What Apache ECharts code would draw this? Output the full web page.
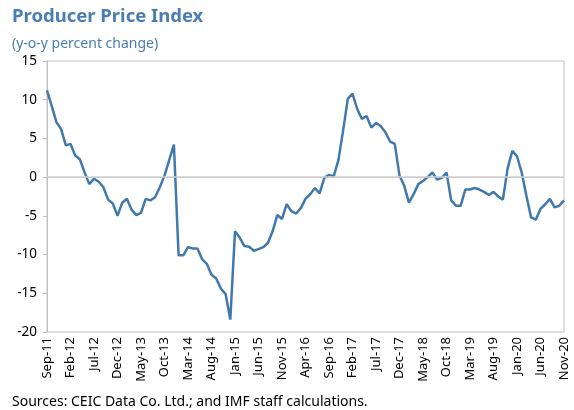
<!DOCTYPE html>
<html>
<head>
<meta charset="utf-8">
<script src="https://cdn.jsdelivr.net/npm/echarts@6/dist/echarts.min.js"></script>
<style>
html,body{margin:0;padding:0;background:#fff;}
#c{width:574px;height:410px;}
</style>
</head>
<body>
<div id="c"></div>
<script>
// Monthly categories Sep-11 .. Nov-20
const monthNames = ['Jan','Feb','Mar','Apr','May','Jun','Jul','Aug','Sep','Oct','Nov','Dec'];
const categories = [];
for (let y = 2011, m = 8; y < 2020 || (y === 2020 && m <= 10); ) {
  categories.push(monthNames[m] + '-' + String(y).slice(2));
  m++; if (m === 12) { m = 0; y++; }
}
const ppiValues = [
  11.2, 9.2, 7.1, 6.2, 4.1, 4.3, 2.8, 2.3, 0.6, -0.9,
  -0.2, -0.6, -1.3, -2.9, -3.4, -5.0, -3.3, -2.8, -4.2, -4.9,
  -4.6, -2.8, -3.0, -2.6, -1.3, 0.2, 2.2, 4.2, -10.1, -10.1,
  -9.05, -9.2, -9.2, -10.6, -11.2, -12.6, -13.1, -14.4, -15.1, -18.4,
  -7.0, -7.8, -8.9, -9.0, -9.5, -9.3, -9.05, -8.5, -7.0, -4.9,
  -5.4, -3.5, -4.4, -4.7, -4.0, -2.8, -2.2, -1.4, -2.1, -0.1,
  0.3, 0.1, 2.2, 6.0, 10.1, 10.8, 8.8, 7.5, 7.9, 6.4,
  7.0, 6.6, 5.8, 4.6, 4.3, 0.2, -1.1, -3.3, -2.2, -0.9,
  -0.5, 0.0, 0.6, -0.3, -0.1, 0.6, -3.0, -3.7, -3.7, -1.6,
  -1.6, -1.4, -1.6, -1.9, -2.3, -1.9, -2.5, -2.9, 1.1, 3.4,
  2.7, 0.6, -2.4, -5.2, -5.5, -4.1, -3.5, -2.8, -3.9, -3.7,
  -3.0
];
const yTicks = [-20, -15, -10, -5, 0, 5, 10, 15];

const titleText = 'Producer Price Index';
const subtitleText = '(y-o-y percent change)';
const sourceText = 'Sources: CEIC Data Co. Ltd.; and IMF staff calculations.';

const FONT = '"Noto Sans", "Open Sans", sans-serif';
const BLUE = '#4a7db3';

const chart = echarts.init(document.getElementById('c'), null, {renderer: 'canvas'});
chart.setOption({
  animation: false,
  backgroundColor: '#fff',
  title: [
    {text: titleText, left: 7, top: 2, textStyle: {fontFamily: FONT, fontSize: 18.5, fontWeight: 'bold', color: BLUE}},
    {text: subtitleText, left: 7, top: 32, textStyle: {fontFamily: FONT, fontSize: 14, fontWeight: 'normal', color: BLUE}},
    {text: sourceText, left: 7, top: 390, textStyle: {fontFamily: FONT, fontSize: 14, fontWeight: 'normal', color: '#000'}}
  ],
  grid: {left: 47, right: 10, top: 61, bottom: 78, show: true, borderColor: '#c0c0c0', borderWidth: 1, backgroundColor: 'transparent'},
  xAxis: {
    type: 'category',
    data: categories,
    boundaryGap: false,
    axisLine: {lineStyle: {color: '#c0c0c0'}},
    axisTick: {show: false},
    axisLabel: {interval: 4, rotate: 90, fontFamily: FONT, fontSize: 13, color: '#000', margin: 5},
    splitLine: {show: false}
  },
  yAxis: {
    type: 'value',
    min: yTicks[0], max: yTicks[yTicks.length - 1], interval: 5,
    axisLine: {show: true, lineStyle: {color: '#c0c0c0'}},
    axisTick: {show: true, length: 4, lineStyle: {color: '#c0c0c0'}},
    axisLabel: {fontFamily: FONT, fontSize: 13.5, color: '#000', margin: 10},
    splitLine: {show: false}
  },
  series: [{
    type: 'line',
    data: ppiValues,
    symbol: 'none',
    lineStyle: {color: '#4179ad', width: 2.5},
    markLine: {
      silent: true, symbol: 'none', label: {show: false},
      lineStyle: {color: '#d0d0d0', type: 'solid', width: 1.5},
      data: [{yAxis: 0}]
    },
    z: 3
  }]
});
</script>
</body>
</html>
